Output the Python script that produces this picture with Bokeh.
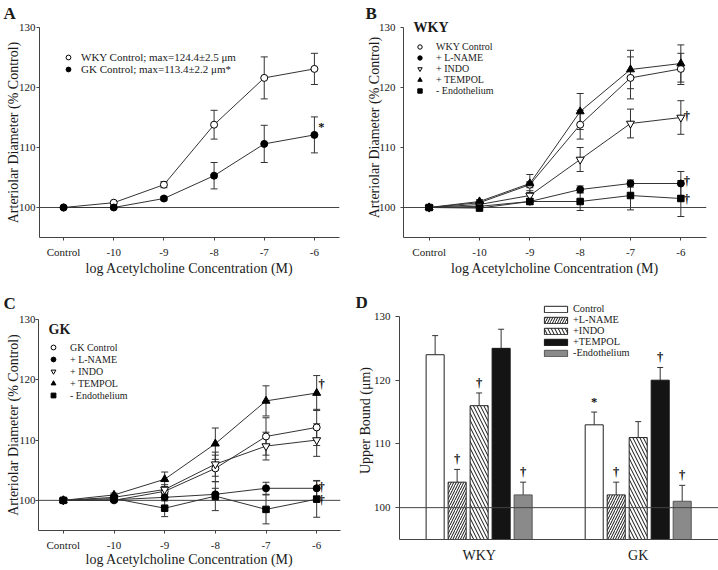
from bokeh.plotting import figure
from bokeh.layouts import row, column
from bokeh.models import (ColumnDataSource, FixedTicker, Span, Whisker, TeeHead,
                          Legend, LegendItem, Label, Title)
from bokeh.embed import file_html
from bokeh.resources import INLINE
from bokeh.core.properties import value

FONT = "Liberation Serif"

# ---------------- data ----------------
x_labels = ["Control", "-10", "-9", "-8", "-7", "-6"]

wky_control = [100.0, 100.8, 103.8, 113.8, 121.6, 123.1]
wky_control_err = [0.0, 0.2, 0.5, 2.4, 3.5, 2.6]
gk_control = [100.0, 100.0, 101.5, 105.3, 110.6, 112.1]
gk_control_err = [0.0, 0.2, 0.3, 2.2, 3.1, 3.0]

wky_lname = [100.0, 100.2, 101.0, 103.0, 104.0, 104.0]
wky_lname_err = [0.0, 0.2, 0.5, 0.6, 0.6, 2.0]
wky_indo = [100.0, 100.5, 102.0, 108.0, 114.0, 115.0]
wky_indo_err = [0.0, 0.3, 0.8, 2.0, 2.4, 2.8]
wky_tempol = [100.0, 101.0, 104.0, 116.0, 123.0, 124.0]
wky_tempol_err = [0.0, 0.3, 1.5, 3.0, 3.2, 3.1]
wky_endo = [100.0, 99.9, 101.0, 101.0, 102.0, 101.5]
wky_endo_err = [0.0, 0.3, 0.5, 1.5, 2.4, 3.0]

gk_lname = [100.0, 100.1, 100.5, 101.0, 102.0, 102.0]
gk_lname_err = [0.0, 0.2, 0.6, 1.0, 1.0, 1.3]
gk_indo = [100.0, 100.5, 101.8, 106.0, 109.0, 110.0]
gk_indo_err = [0.0, 0.3, 0.8, 2.0, 2.3, 2.7]
gk_tempol = [100.0, 100.9, 103.5, 109.4, 116.5, 117.8]
gk_tempol_err = [0.0, 0.3, 1.2, 2.6, 2.5, 2.9]
gk_endo = [100.0, 100.3, 98.7, 100.7, 98.5, 100.2]
gk_endo_err = [0.0, 0.3, 1.4, 2.4, 2.4, 3.0]

a_legend = ["WKY Control; max=124.4\u00b12.5 \u03bcm", "GK Control; max=113.4\u00b12.2 \u03bcm*"]
b_legend = ["WKY Control", "+ L-NAME", "+ INDO", "+ TEMPOL", "- Endothelium"]
c_legend = ["GK Control", "+ L-NAME", "+ INDO", "+ TEMPOL", "- Endothelium"]

a_sig_x = ["-6"]
a_sig_y = [113.5]
a_sig_text = ["*"]
b_sig_x = ["-6", "-6", "-6"]
b_sig_y = [115.3, 104.5, 101.5]
b_sig_text = ["\u2020", "\u2020", "\u2020"]
c_sig_x = ["-6", "-6", "-6"]
c_sig_y = [119.3, 102.2, 100.1]
c_sig_text = ["\u2020", "\u2020", "\u2020"]

groups = ["WKY", "GK"]
treatments = ["Control", "+L-NAME", "+INDO", "+TEMPOL", "-Endothelium"]
wky_bound = [124.0, 104.0, 116.0, 125.0, 102.0]
wky_bound_err = [3.0, 2.0, 2.0, 3.0, 2.0]
gk_bound = [113.0, 102.0, 111.0, 120.0, 101.0]
gk_bound_err = [2.0, 2.0, 2.5, 2.0, 2.5]
wky_sig = ["", "\u2020", "\u2020", "", "\u2020"]
gk_sig = ["*", "\u2020", "", "\u2020", "\u2020"]

# ---------------- styles ----------------
MARK = {
    "control": ("circle", "white", 7),
    "lname": ("circle", "black", 7),
    "indo": ("inverted_triangle", "white", 8),
    "tempol": ("triangle", "black", 8),
    "endo": ("square", "black", 6.5),
}
BAR_STYLE = [
    dict(fill_color="white", line_color="#222", hatch_pattern=" "),
    dict(fill_color="white", line_color="#222", hatch_pattern="/", hatch_scale=5),
    dict(fill_color="white", line_color="#222", hatch_pattern="\\", hatch_scale=7),
    dict(fill_color="#141414", line_color="#141414", hatch_pattern=" "),
    dict(fill_color="#8a8a8a", line_color="#555555", hatch_pattern=" "),
]
AXC = "#444444"
TXC = "#1a1a1a"
SIGC = "#111111"
Y_LO, Y_HI = 95, 130


def make_fig(width, height, left, right, top130, bottom, ext, x_range):
    """top130: px from figure top to the 130 line; ext: extra frame px above it."""
    fh130 = height - top130 - bottom
    upp = (Y_HI - Y_LO) / fh130
    p = figure(width=width, height=height, x_range=x_range,
               y_range=(Y_LO, Y_HI + ext * upp),
               output_backend="svg", toolbar_location=None,
               min_border_left=left, min_border_right=right,
               min_border_top=top130 - ext, min_border_bottom=bottom)
    p.frame_align = False
    p.outline_line_color = None
    p.grid.visible = False
    return p, fh130


def style_axes(p, yaxis_cfg, xaxis_cfg):
    ytick_out, ytick_standoff, ylab_standoff = yaxis_cfg
    xtick_out, xtick_standoff, xlab_standoff = xaxis_cfg
    for ax in (p.xaxis[0], p.yaxis[0]):
        ax.axis_line_color = AXC
        ax.major_tick_line_color = AXC
        ax.minor_tick_line_color = None
        ax.major_tick_in = 0
        ax.major_label_text_font = FONT
        ax.major_label_text_font_size = "11px"
        ax.major_label_text_color = TXC
        ax.axis_label_text_font = FONT
        ax.axis_label_text_font_size = "14px"
        ax.axis_label_text_font_style = "normal"
        ax.axis_label_text_color = TXC
    p.xaxis.major_tick_out = xtick_out
    p.xaxis.major_label_standoff = xtick_standoff
    p.xaxis.axis_label_standoff = xlab_standoff
    p.yaxis.major_tick_out = ytick_out
    p.yaxis.major_label_standoff = ytick_standoff
    p.yaxis.axis_label_standoff = ylab_standoff
    p.yaxis.ticker = FixedTicker(ticks=[100, 110, 120, 130])
    p.yaxis.bounds = (Y_LO, Y_HI)


def add_letter(p, letter, offset, standoff, valign):
    p.add_layout(Title(text=letter, align="left", offset=offset, standoff=standoff,
                       vertical_align=valign, text_font=FONT, text_font_size="17px",
                       text_font_style="bold", text_color=TXC), "above")


def add_label(p, text, x, y, size):
    p.add_layout(Label(x=x, y=y, x_units="screen", y_units="screen", text=text,
                       text_font=FONT, text_font_size=size, text_font_style="bold",
                       text_baseline="middle", text_align="left", text_color=TXC))


def line_panel(geom, axes_cfg, series, legend_labels, legend_geom, letter_cfg, sig,
               sig_dx, strain=None):
    width, height, left, right, top130, bottom, ext, xr = geom
    p, fh = make_fig(width, height, left, right, top130, bottom, ext, xr)
    style_axes(p, *axes_cfg)
    p.xaxis.ticker = FixedTicker(ticks=list(range(len(x_labels))))
    p.xaxis.major_label_overrides = {i: lab for i, lab in enumerate(x_labels)}
    p.xaxis.axis_label = "log Acetylcholine Concentration (M)"
    p.yaxis.axis_label = "Arteriolar Diameter (% Control)"

    p.add_layout(Span(location=100, dimension="width", line_color=AXC,
                      line_width=1, level="underlay"))

    items = []
    for (key, vals, errs), lab in zip(series, legend_labels):
        xs = list(range(len(vals)))
        src = ColumnDataSource(dict(x=xs, y=vals,
                                    lo=[v - e for v, e in zip(vals, errs)],
                                    hi=[v + e for v, e in zip(vals, errs)]))
        p.add_layout(Whisker(source=src, base="x", lower="lo", upper="hi",
                             line_color="#333", line_width=1, level="underlay",
                             lower_head=TeeHead(size=7, line_color="#333", line_width=1),
                             upper_head=TeeHead(size=7, line_color="#333", line_width=1)))
        p.line("x", "y", source=src, line_color="#333", line_width=1)
        marker, fill, size = MARK[key]
        r = p.scatter("x", "y", source=src, marker=marker, size=size,
                      fill_color=fill, line_color="black", line_width=1)
        items.append(LegendItem(label=lab, renderers=[r]))

    lx, ly, gsz, standoff, fsize = legend_geom
    leg = Legend(items=items, location=(lx, ly), orientation="vertical",
                 border_line_color=None, background_fill_alpha=0,
                 padding=0, margin=0, spacing=0,
                 glyph_width=gsz, glyph_height=gsz, label_height=gsz,
                 label_standoff=standoff, label_text_font=FONT,
                 label_text_font_size=fsize, label_text_color=TXC)
    p.add_layout(leg)

    sx, sy, st = sig
    sxi = [x_labels.index(s) for s in sx]
    p.text(x=sxi, y=sy, text=st, text_font=value(FONT), text_font_size="12.5px",
           text_font_style="bold", text_align="center", text_baseline="middle",
           x_offset=sig_dx, text_color=SIGC)

    add_letter(p, *letter_cfg)
    if strain is not None:
        add_label(p, strain[0], strain[1], fh + strain[2], "14px")
    return p


# geom: width, height, left, right, top130, bottom, ext, x_range
pA = line_panel((345, 280, 39, 6, 27, 43, 0, (-0.48, 5.5)),
                ((3, 1, -5), (3, 5, 0)),
                [("control", wky_control, wky_control_err),
                 ("lname", gk_control, gk_control_err)],
                a_legend, (23, 162, 12, 7, "11px"),
                ("A", -36, 5, "top"), (a_sig_x, a_sig_y, a_sig_text), 7)

pB = line_panel((373, 280, 58, 12, 27, 43, 10, (-0.51, 5.51)),
                ((3, 5, -6), (3, 5, 0)),
                [("control", wky_control, wky_control_err),
                 ("lname", wky_lname, wky_lname_err),
                 ("indo", wky_indo, wky_indo_err),
                 ("tempol", wky_tempol, wky_tempol_err),
                 ("endo", wky_endo, wky_endo_err)],
                b_legend, (11, 141, 11, 11, "10px"),
                ("B", -38, -10, "bottom"), (b_sig_x, b_sig_y, b_sig_text), 6,
                strain=("WKY", 10, 0))

pC = line_panel((345, 290, 38, 5, 39, 40, 0, (-0.49, 5.47)),
                ((3, 0, -5), (3, 5, -2)),
                [("control", gk_control, gk_control_err),
                 ("lname", gk_lname, gk_lname_err),
                 ("indo", gk_indo, gk_indo_err),
                 ("tempol", gk_tempol, gk_tempol_err),
                 ("endo", gk_endo, gk_endo_err)],
                c_legend, (9, 129, 12, 11, "10px"),
                ("C", -35, 9, "top"), (c_sig_x, c_sig_y, c_sig_text), 5,
                strain=("GK", 10, -10))

# ---------------- panel D ----------------
group_pitch = 7.23
bar_width = 0.82
pD, d_fh = make_fig(373, 290, 54, 0, 36, 31, 15, (-1.62, 12.88))
style_axes(pD, (4, 5, -2), (0, 8, 0))
pD.yaxis.axis_label = "Upper Bound (\u03bcm)"
centers = [g * group_pitch + (len(treatments) - 1) / 2 for g in range(len(groups))]
pD.xaxis.ticker = FixedTicker(ticks=centers)
pD.xaxis.major_label_overrides = {c: g for c, g in zip(centers, groups)}
pD.xaxis.major_label_text_font_size = "14px"

d_items = []
all_x, all_top, all_hi, all_sig = [], [], [], []
for k, tname in enumerate(treatments):
    xs = [g * group_pitch + k for g in range(len(groups))]
    tops = [wky_bound[k], gk_bound[k]]
    errs = [wky_bound_err[k], gk_bound_err[k]]
    st = BAR_STYLE[k]
    r = pD.vbar(x=xs, width=bar_width, bottom=Y_LO, top=tops,
                fill_color=st["fill_color"], line_color=st["line_color"], line_width=1,
                hatch_pattern=st["hatch_pattern"], hatch_color="#111",
                hatch_scale=st.get("hatch_scale", 6), hatch_weight=1)
    d_items.append(LegendItem(label=tname, renderers=[r]))
    all_x += xs
    all_top += tops
    all_hi += [t + e for t, e in zip(tops, errs)]
    all_sig += [wky_sig[k], gk_sig[k]]

dsrc = ColumnDataSource(dict(x=all_x, top=all_top, hi=all_hi, sig=all_sig))
pD.add_layout(Whisker(source=dsrc, base="x", lower="top", upper="hi",
                      line_color="#333", line_width=1, lower_head=None,
                      upper_head=TeeHead(size=6, line_color="#333", line_width=1)))
pD.text(x="x", y="hi", text="sig", source=dsrc, text_font=value(FONT),
        text_font_size="12.5px", text_font_style="bold", text_align="center",
        text_baseline="bottom", y_offset=-3, text_color=SIGC)
pD.add_layout(Span(location=100, dimension="width", line_color=AXC, line_width=1))

d_leg = Legend(items=d_items, location=(142, 181), orientation="vertical",
               border_line_color=None, background_fill_alpha=0,
               padding=0, margin=0, spacing=0,
               glyph_width=29, glyph_height=8, label_height=11,
               label_standoff=3, label_text_font=FONT,
               label_text_font_size="10.3px", label_text_color=TXC)
pD.add_layout(d_leg)
add_letter(pD, "D", -44, -20, "bottom")

layout = column(row(pA, pB), row(pC, pD))
open("out.html", "w").write(file_html(layout, INLINE))
